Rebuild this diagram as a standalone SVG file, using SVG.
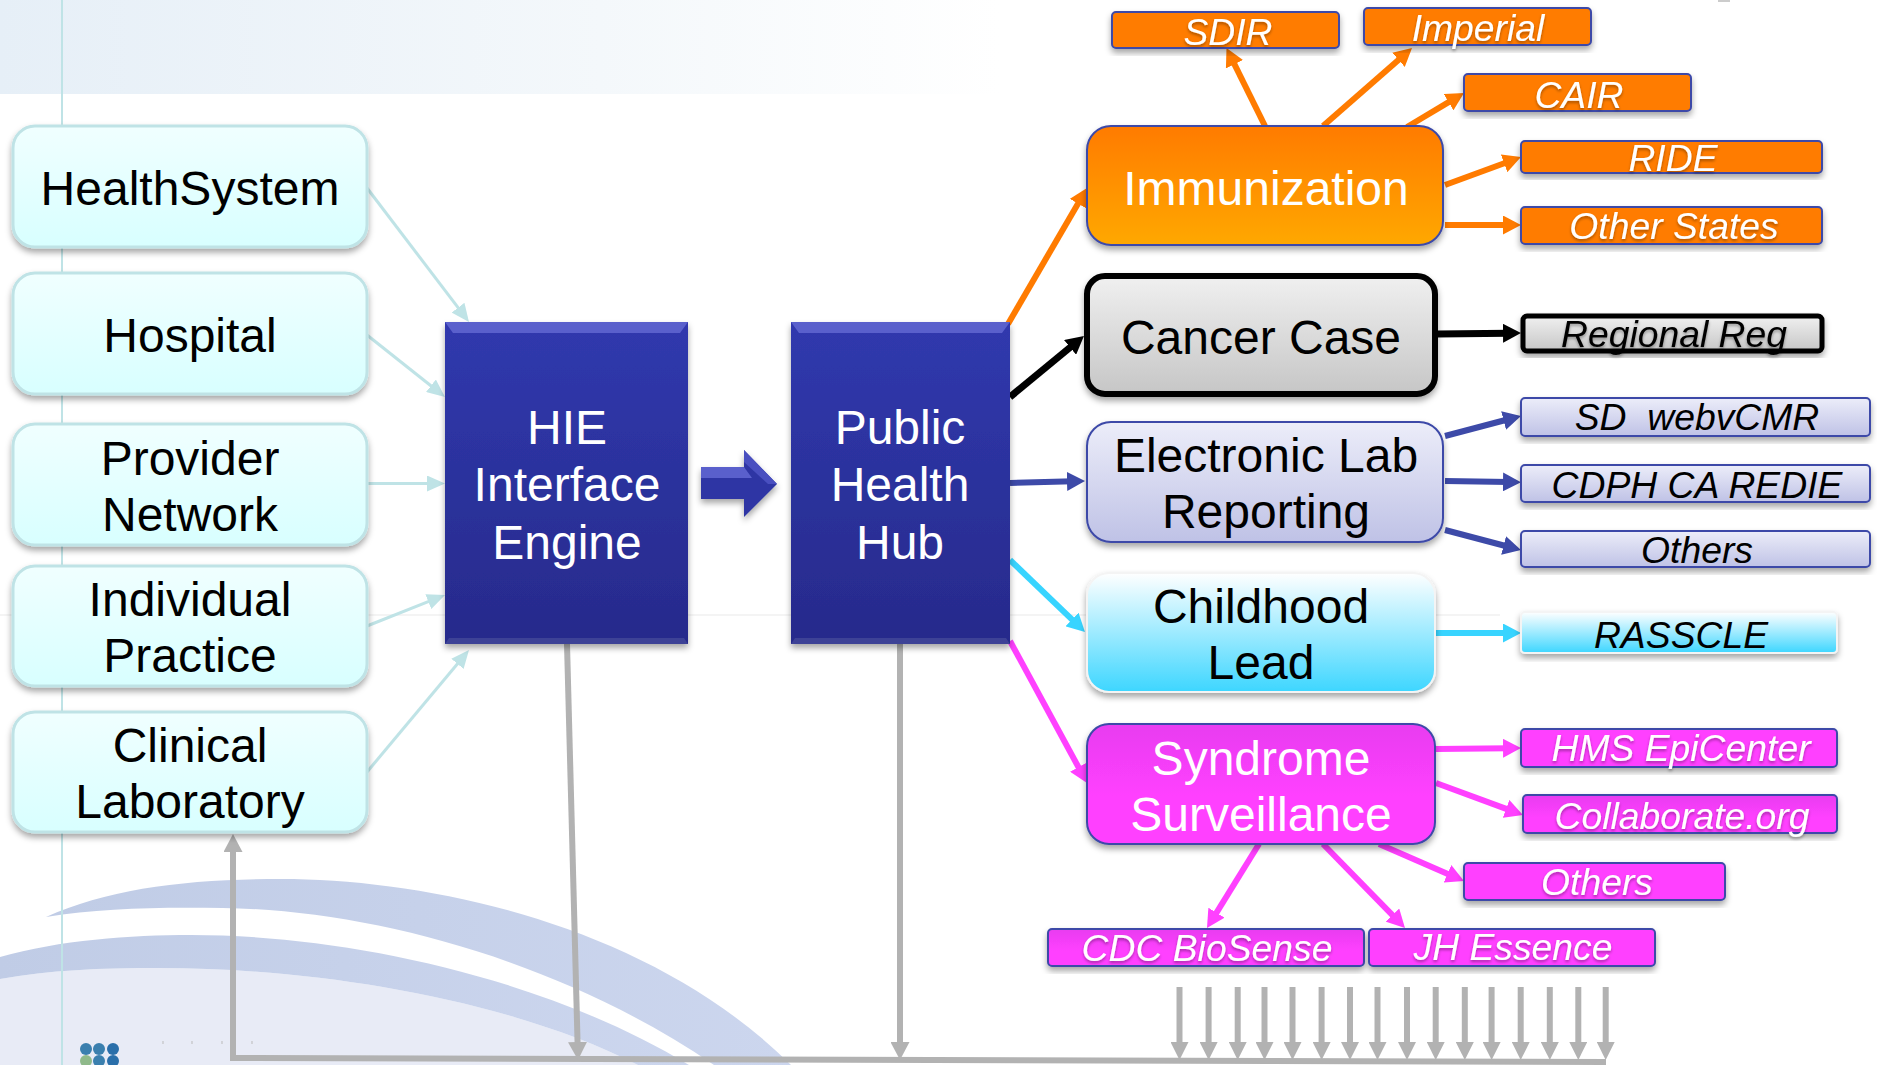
<svg xmlns="http://www.w3.org/2000/svg" width="1877" height="1065" viewBox="0 0 1877 1065">
<style>
text{font-family:"Liberation Sans",Arial,sans-serif;text-anchor:middle;white-space:pre}
.big{font-size:48px}
.small{font-size:37.3px;font-style:italic}
.w{fill:#fff}
.k{fill:#000}
.sh{filter:url(#ts)}
.teal{fill:url(#gTeal);stroke:#bfe3e6;stroke-width:3}
.box{filter:url(#ds)}
.oS{fill:#ff7b00;stroke:#3d4aa8;stroke-width:2}
.mS{fill:#ff40ff;stroke:#3d4aa8;stroke-width:2}
.lS{fill:url(#gLav);stroke:#3d4aa8;stroke-width:2}
.c{fill:none}
.ct{stroke:#bfe3e6;stroke-width:3;marker-end:url(#aT)}
.co{stroke:#ff7b00;stroke-width:6;marker-end:url(#aO)}
.ck{stroke:#000;stroke-width:7;marker-end:url(#aK)}
.cn{stroke:#3d4aa8;stroke-width:6;marker-end:url(#aN)}
.cc{stroke:#38d4ff;stroke-width:6;marker-end:url(#aC)}
.cm{stroke:#ff40ff;stroke-width:6;marker-end:url(#aM)}
.cg{stroke:#b2b2b2;stroke-width:6;marker-end:url(#aG)}
.cd{stroke:#b2b2b2;stroke-width:6;marker-end:url(#aD)}
</style>
<defs>
<linearGradient id="gTop" x1="0" x2="1" y1="0" y2="0"><stop offset="0" stop-color="#e6eff7"/><stop offset=".6" stop-color="#f4f8fb"/><stop offset="1" stop-color="#fff"/></linearGradient>
<linearGradient id="gTeal" x1="0" x2="0" y1="0" y2="1"><stop offset="0" stop-color="#f0ffff"/><stop offset="1" stop-color="#d8ffff"/></linearGradient>
<linearGradient id="gImm" x1="0" x2="0" y1="0" y2="1"><stop offset="0" stop-color="#ff7b00"/><stop offset="1" stop-color="#ffa800"/></linearGradient>
<linearGradient id="gGr" x1="0" x2="0" y1="0" y2="1"><stop offset="0" stop-color="#f0f0f0"/><stop offset="1" stop-color="#c6c6c6"/></linearGradient>
<linearGradient id="gLav" x1="0" x2="0" y1="0" y2="1"><stop offset="0" stop-color="#ecedf9"/><stop offset="1" stop-color="#bfc2e6"/></linearGradient>
<linearGradient id="gCy" x1="0" x2="0" y1="0" y2="1"><stop offset="0" stop-color="#fff"/><stop offset="1" stop-color="#3dd6ff"/></linearGradient>
<linearGradient id="gMag" x1="0" x2="0" y1="0" y2="1"><stop offset="0" stop-color="#e83cf0"/><stop offset=".6" stop-color="#ff40ff"/></linearGradient>
<linearGradient id="gBlue" x1="0" x2="0" y1="0" y2="1"><stop offset="0" stop-color="#3039ae"/><stop offset="1" stop-color="#272a8b"/></linearGradient>
<linearGradient id="gSw" x1="0" x2="1" y1="0" y2="0"><stop offset="0" stop-color="#c0cce6"/><stop offset="1" stop-color="#ccd6ee"/></linearGradient>
<filter id="ds" x="-10%" y="-10%" width="120%" height="130%"><feDropShadow dx="0" dy="4" stdDeviation="3" flood-color="#000" flood-opacity=".35"/></filter>
<filter id="ts" x="-10%" y="-20%" width="120%" height="150%"><feDropShadow dx="0" dy="2" stdDeviation="1.5" flood-color="#000" flood-opacity=".35"/></filter>
<marker id="aT" viewBox="0 -8 18 16" refX="6" refY="0" markerWidth="18" markerHeight="16" markerUnits="userSpaceOnUse" orient="auto"><path d="M0,-8L18,0L0,8z" fill="#bfe3e6"/></marker>
<marker id="aO" viewBox="0 -9.5 18 19" refX="6" refY="0" markerWidth="18" markerHeight="19" markerUnits="userSpaceOnUse" orient="auto"><path d="M0,-9.5L18,0L0,9.5z" fill="#ff7b00"/></marker>
<marker id="aK" viewBox="0 -9.5 18 19" refX="6" refY="0" markerWidth="18" markerHeight="19" markerUnits="userSpaceOnUse" orient="auto"><path d="M0,-9.5L18,0L0,9.5z" fill="#000"/></marker>
<marker id="aN" viewBox="0 -9.5 18 19" refX="6" refY="0" markerWidth="18" markerHeight="19" markerUnits="userSpaceOnUse" orient="auto"><path d="M0,-9.5L18,0L0,9.5z" fill="#3d4aa8"/></marker>
<marker id="aC" viewBox="0 -9.5 18 19" refX="6" refY="0" markerWidth="18" markerHeight="19" markerUnits="userSpaceOnUse" orient="auto"><path d="M0,-9.5L18,0L0,9.5z" fill="#38d4ff"/></marker>
<marker id="aM" viewBox="0 -9.5 18 19" refX="6" refY="0" markerWidth="18" markerHeight="19" markerUnits="userSpaceOnUse" orient="auto"><path d="M0,-9.5L18,0L0,9.5z" fill="#ff40ff"/></marker>
<marker id="aG" viewBox="0 -9.5 18 19" refX="6" refY="0" markerWidth="18" markerHeight="19" markerUnits="userSpaceOnUse" orient="auto"><path d="M0,-9.5L18,0L0,9.5z" fill="#b2b2b2"/></marker>
<marker id="aD" viewBox="0 -9 18 18" refX="6" refY="0" markerWidth="18" markerHeight="18" markerUnits="userSpaceOnUse" orient="auto"><path d="M0,-9L18,0L0,9z" fill="#b2b2b2"/></marker>
</defs>
<rect width="1877" height="1065" fill="#fff"/>
<g id="background">
<rect x="0" y="0" width="1000" height="94" fill="url(#gTop)"/>
<path d="M0,615H1500" stroke="#f1f1f1" stroke-width="1.5" fill="none"/>
<path d="M0,979C50,970 100,968 159,968C320,968 510,1000 638,1065H0Z" fill="#e8ebf6"/>
<path d="M46,917C110,888 190,879 281,879C430,879 650,925 791,1065H714C560,960 370,910 223,908C160,907 100,908 46,917Z" fill="url(#gSw)"/>
<path d="M0,957C60,940 130,935 191,935C340,935 540,975 689,1065H638C510,1000 320,968 159,968C100,968 50,970 0,979Z" fill="url(#gSw)"/>
<path d="M62,0V1065" stroke="#bfe3e6" stroke-width="2" fill="none"/>
<g fill="#3a7fae"><circle cx="86" cy="1049" r="6"/><circle cx="99" cy="1049" r="6"/><circle cx="113" cy="1049" r="6" fill="#2a6faa"/><circle cx="86" cy="1061" r="6" fill="#8fb98a"/><circle cx="99" cy="1061" r="6"/><circle cx="113" cy="1061" r="6" fill="#2a6faa"/></g>
<path d="M163,1041v3M192,1041v3M222,1041v3M252,1041v3" stroke="#bbb" stroke-width="1" fill="none"/>
<rect x="1718" y="0" width="12" height="2" fill="#ccc"/>
</g>
<g id="connectors" class="c">
<path class="ct" d="M367,188L461.7,312.4"/>
<path class="ct" d="M367,335L435.6,389.5"/>
<path class="ct" d="M367,483.5H433"/>
<path class="ct" d="M367,626L433.9,599.4"/>
<path class="ct" d="M367,772L461.3,659.2"/>
<path class="co" d="M1008,324L1081,198.4"/>
<path class="co" d="M1265,126L1231.8,58.8"/>
<path class="co" d="M1323,126L1403,55.9"/>
<path class="co" d="M1407,127L1453.7,99.1"/>
<path class="co" d="M1445,185L1509.7,161.2"/>
<path class="co" d="M1445,225H1509"/>
<path class="ck" d="M1010,397L1074.7,343.6"/>
<path class="ck" d="M1437,334L1509,333.2"/>
<path class="cn" d="M1010,483L1073,481.3"/>
<path class="cn" d="M1445,436L1509.4,419"/>
<path class="cn" d="M1445,481L1509,482"/>
<path class="cn" d="M1445,530L1509.4,547"/>
<path class="cc" d="M1010,560L1076.3,623.7"/>
<path class="cc" d="M1436,633H1509"/>
<path class="cm" d="M1010,641L1081.3,772.4"/>
<path class="cm" d="M1436,749L1509,748.2"/>
<path class="cm" d="M1436,783L1511.7,810.9"/>
<path class="cm" d="M1379,844L1453,876.2"/>
<path class="cm" d="M1259,844L1213.3,917.8"/>
<path class="cm" d="M1323,844L1396.6,919.4"/>
<path d="M1606,1062L233,1058V846" stroke="#b2b2b2" stroke-width="6" fill="none" marker-end="url(#aG)"/>
<path class="cg" d="M567,644L577.7,1048"/>
<path class="cg" d="M900,644V1048"/>
<path class="cd" d="M1179.5,987V1048"/>
<path class="cd" d="M1208.6,987V1048"/>
<path class="cd" d="M1237.7,987V1048"/>
<path class="cd" d="M1264.5,987V1048"/>
<path class="cd" d="M1292.5,987V1048"/>
<path class="cd" d="M1321.6,987V1048"/>
<path class="cd" d="M1350,987V1048"/>
<path class="cd" d="M1377.5,987V1048"/>
<path class="cd" d="M1407,987V1048"/>
<path class="cd" d="M1435.7,987V1048"/>
<path class="cd" d="M1464.8,987V1048"/>
<path class="cd" d="M1491.6,987V1048"/>
<path class="cd" d="M1520.7,987V1048"/>
<path class="cd" d="M1549.8,987V1048"/>
<path class="cd" d="M1578.3,987V1048"/>
<path class="cd" d="M1605.7,987V1048"/>
</g>
<g id="healthsystem"><rect class="teal box" x="13" y="126" width="354" height="121" rx="22"/><text class="big k" x="190" y="205">HealthSystem</text></g>
<g id="hospital"><rect class="teal box" x="13" y="273" width="354" height="121" rx="22"/><text class="big k" x="190" y="352">Hospital</text></g>
<g id="provider-network"><rect class="teal box" x="13" y="424" width="354" height="121" rx="22"/><text class="big k" x="190" y="475">Provider</text><text class="big k" x="190" y="531">Network</text></g>
<g id="individual-practice"><rect class="teal box" x="13" y="566" width="354" height="120" rx="22"/><text class="big k" x="190" y="616">Individual</text><text class="big k" x="190" y="672">Practice</text></g>
<g id="clinical-laboratory"><rect class="teal box" x="13" y="712" width="354" height="120" rx="22"/><text class="big k" x="190" y="762">Clinical</text><text class="big k" x="190" y="818">Laboratory</text></g>
<g id="hie-engine"><g class="box"><rect x="445" y="322" width="243" height="322" fill="url(#gBlue)"/></g><path d="M445,322H688L680,333H453Z" fill="#5a60cc"/><path d="M445,644L449,638H684L688,644Z" fill="#3d4296"/><text class="big w" x="567" y="444">HIE</text><text class="big w" x="567" y="501">Interface</text><text class="big w" x="567" y="559">Engine</text></g>
<g id="public-health-hub"><g class="box"><rect x="791" y="322" width="219" height="322" fill="url(#gBlue)"/></g><path d="M791,322H1010L1002,333H799Z" fill="#5a60cc"/><path d="M791,644L795,638H1006L1010,644Z" fill="#3d4296"/><text class="big w" x="900" y="444">Public</text><text class="big w" x="900" y="501">Health</text><text class="big w" x="900" y="559">Hub</text></g>
<g id="block-arrow" class="box"><path d="M701,467H744V450L777,484L744,517V499H701Z" fill="#2e36a4"/><path d="M701,467H744L752,478H701Z" fill="#5a60cc"/><path d="M744,450L777,484L768,484L744,462Z" fill="#4a50c0"/></g>
<g id="immunization"><rect class="box" x="1087" y="126" width="356" height="119" rx="24" fill="url(#gImm)" stroke="#3d4aa8" stroke-width="2"/><text class="big w" x="1266" y="205">Immunization</text></g>
<g id="sdir"><rect class="oS box" x="1112" y="12" width="227" height="36" rx="4"/><text class="small w sh" x="1228" y="45">SDIR</text></g>
<g id="imperial"><rect class="oS box" x="1364" y="8" width="227" height="37" rx="4"/><text class="small w sh" x="1478" y="41">Imperial</text></g>
<g id="cair"><rect class="oS box" x="1464" y="74" width="227" height="37" rx="4"/><text class="small w sh" x="1579" y="108">CAIR</text></g>
<g id="ride"><rect class="oS box" x="1521" y="141" width="301" height="32" rx="4"/><text class="small w sh" x="1673" y="171">RIDE</text></g>
<g id="other-states"><rect class="oS box" x="1521" y="207" width="301" height="37" rx="4"/><text class="small w sh" x="1674" y="239">Other States</text></g>
<g id="cancer-case"><rect class="box" x="1087" y="276" width="348" height="118" rx="18" fill="url(#gGr)" stroke="#000" stroke-width="6"/><text class="big k" x="1261" y="354">Cancer Case</text></g>
<g id="regional-reg"><rect class="box" x="1523" y="316" width="299" height="35" rx="4" fill="url(#gGr)" stroke="#000" stroke-width="5"/><text class="small k sh" x="1674" y="347">Regional Reg</text></g>
<g id="electronic-lab"><rect class="box" x="1087" y="422" width="356" height="120" rx="24" fill="url(#gLav)" stroke="#3d4aa8" stroke-width="2"/><text class="big k" x="1266" y="472">Electronic Lab</text><text class="big k" x="1266" y="528">Reporting</text></g>
<g id="sd-webvcmr"><rect class="lS box" x="1521" y="398" width="349" height="38" rx="4"/><text class="small k" x="1697" y="430">SD  webvCMR</text></g>
<g id="cdph-redie"><rect class="lS box" x="1521" y="465" width="349" height="37" rx="4"/><text class="small k" x="1697" y="498">CDPH CA REDIE</text></g>
<g id="elr-others"><rect class="lS box" x="1521" y="531" width="349" height="36" rx="4"/><text class="small k" x="1697" y="563">Others</text></g>
<g id="childhood-lead"><rect class="box" x="1087" y="573" width="348" height="119" rx="22" fill="url(#gCy)" stroke="#f4f4f4" stroke-width="2"/><text class="big k" x="1261" y="623">Childhood</text><text class="big k" x="1261" y="679">Lead</text></g>
<g id="rasscle"><rect class="box" x="1521" y="612" width="316" height="41" rx="4" fill="url(#gCy)" stroke="#f4f4f4" stroke-width="2"/><text class="small k" x="1681" y="648">RASSCLE</text></g>
<g id="syndrome-surveillance"><rect class="box" x="1087" y="724" width="348" height="120" rx="22" fill="url(#gMag)" stroke="#3d4aa8" stroke-width="2"/><text class="big w" x="1261" y="775">Syndrome</text><text class="big w" x="1261" y="831">Surveillance</text></g>
<g id="hms-epicenter"><rect class="mS box" x="1521" y="729" width="316" height="38" rx="4"/><text class="small w sh" x="1681" y="761">HMS EpiCenter</text></g>
<g id="collaborate"><rect class="box" x="1523" y="795" width="314" height="38" rx="4" fill="url(#gMag)" stroke="#3d4aa8" stroke-width="2"/><text class="small w sh" x="1682" y="829">Collaborate.org</text></g>
<g id="syn-others"><rect class="mS box" x="1464" y="863" width="261" height="37" rx="4"/><text class="small w sh" x="1597" y="895">Others</text></g>
<g id="cdc-biosense"><rect class="box" x="1048" y="929" width="316" height="37" rx="4" fill="url(#gMag)" stroke="#3d4aa8" stroke-width="2"/><text class="small w sh" x="1207" y="961">CDC BioSense</text></g>
<g id="jh-essence"><rect class="mS box" x="1369" y="929" width="286" height="37" rx="4"/><text class="small w sh" x="1513" y="960">JH Essence</text></g>
</svg>
